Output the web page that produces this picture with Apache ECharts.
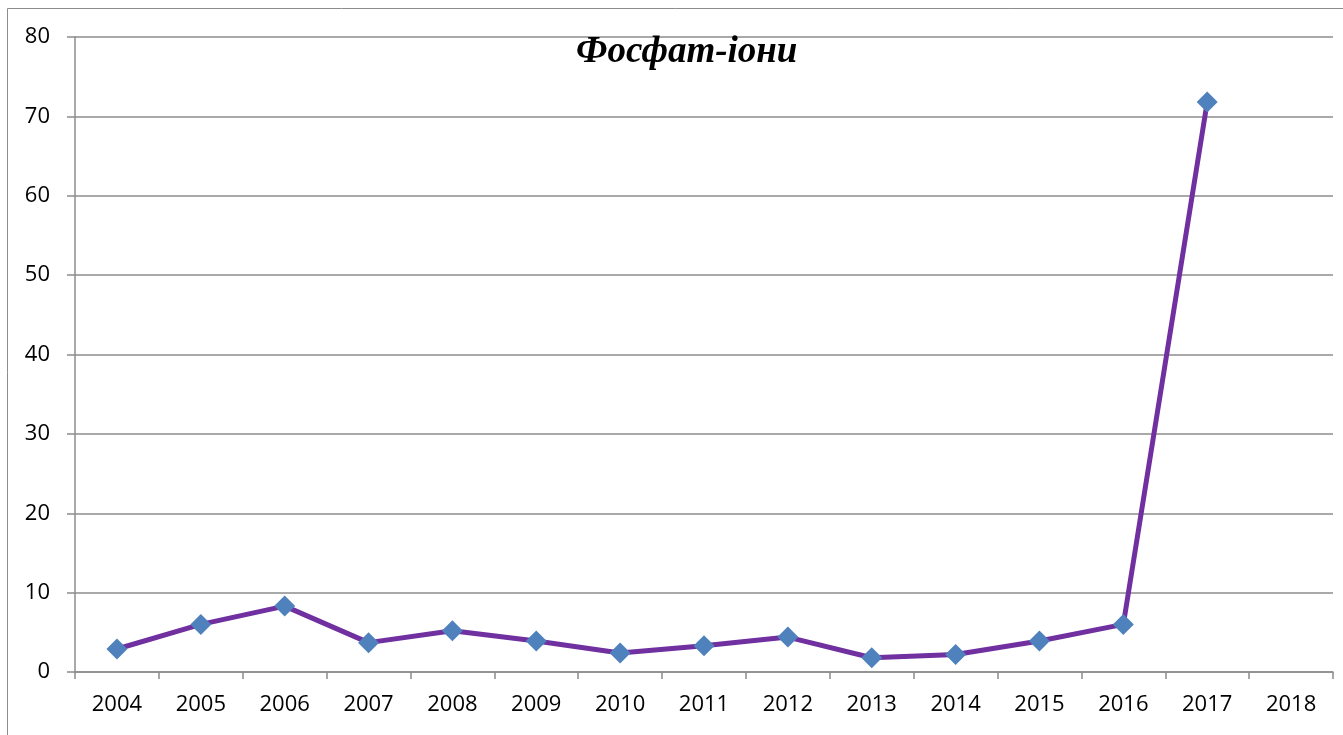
<!DOCTYPE html>
<html>
<head>
<meta charset="utf-8">
<script src="https://cdn.jsdelivr.net/npm/echarts@6/dist/echarts.min.js"></script>
<style>
  html, body { margin: 0; padding: 0; background: #fff; }
  #chart { width: 1343px; height: 735px; }
</style>
</head>
<body>
<div id="chart"></div>
<script>
// data
var years = ['2004', '2005', '2006', '2007', '2008', '2009', '2010', '2011', '2012', '2013', '2014', '2015', '2016', '2017', '2018'];
var phosphate = [2.9, 6.0, 8.3, 3.7, 5.2, 3.9, 2.4, 3.3, 4.4, 1.8, 2.2, 3.9, 6.0, 71.8, null];
var yTicks = { min: 0, max: 80, step: 10 };
var chartTitle = 'Фосфат-іони';

var chart = echarts.init(document.getElementById('chart'));

var axisGray = '#8c8c8c';
var labelFont = { fontFamily: 'Open Sans', fontSize: 22, color: '#000' };

chart.setOption({
  animation: false,
  title: {
    text: chartTitle,
    left: 571,
    top: 29,
    textStyle: {
      fontFamily: 'Liberation Serif',
      fontStyle: 'italic',
      fontWeight: 'bold',
      fontSize: 37,
      color: '#000'
    }
  },
  // outer chart border
  graphic: [{
    type: 'rect',
    shape: { x: 7.5, y: 8.5, width: 1400, height: 800 },
    style: { fill: null, stroke: axisGray, lineWidth: 1 },
    silent: true
  }],
  grid: { left: 75, right: 10, top: 37, bottom: 63 },
  xAxis: {
    type: 'category',
    data: years,
    boundaryGap: true,
    axisLine: { show: true, lineStyle: { color: axisGray, width: 1.5 } },
    axisTick: { show: true, interval: 0, alignWithLabel: false, length: 7, lineStyle: { color: axisGray, width: 1.5 } },
    axisLabel: Object.assign({ interval: 0, margin: 22 }, labelFont),
    splitLine: { show: false }
  },
  yAxis: {
    type: 'value',
    min: yTicks.min,
    max: yTicks.max,
    interval: yTicks.step,
    axisLine: { show: true, lineStyle: { color: axisGray, width: 1.5 } },
    axisTick: { show: true, length: 8, lineStyle: { color: axisGray, width: 1.5 } },
    axisLabel: Object.assign({ margin: 25 }, labelFont),
    splitLine: { show: true, lineStyle: { color: axisGray, width: 1.5 } }
  },
  series: [{
    name: chartTitle,
    type: 'line',
    data: phosphate,
    connectNulls: false,
    symbol: 'diamond',
    symbolSize: 21,
    lineStyle: { color: '#7030A0', width: 5 },
    itemStyle: { color: '#4F81BD', borderWidth: 0 }
  }]
});
</script>
</body>
</html>
